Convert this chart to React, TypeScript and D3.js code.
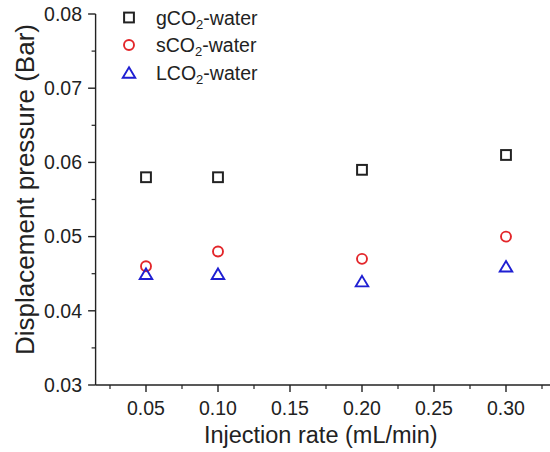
import React from "react";
import * as d3 from "d3";

// Injection rates (mL/min)
const rates = [0.05, 0.1, 0.2, 0.3];
// Displacement pressure (Bar) for each fluid pair
const gCO2Water = [0.058, 0.058, 0.059, 0.061];
const sCO2Water = [0.046, 0.048, 0.047, 0.05];
const lCO2Water = [0.045, 0.045, 0.044, 0.046];

const xTicks = [0.05, 0.1, 0.15, 0.2, 0.25, 0.3];
const xMinor = [0.025, 0.075, 0.125, 0.175, 0.225, 0.275, 0.325];
const yTicks = [0.03, 0.04, 0.05, 0.06, 0.07, 0.08];
const yMinor = [0.035, 0.045, 0.055, 0.065, 0.075];

const W = 550;
const H = 452;
const FONT = "'Liberation Sans', Arial, sans-serif";

const BLACK = "#222222";
const RED = "#e3262a";
const BLUE = "#1f1fd2";

const x = d3.scaleLinear().domain([0.015, 0.335]).range([95.6, 556.4]);
const y = d3.scaleLinear().domain([0.03, 0.08]).range([385, 14]);

const triPath = (cx: number, cy: number, w: number, h: number) =>
  `M${cx},${cy - h / 2}L${cx + w / 2},${cy + h / 2}L${cx - w / 2},${cy + h / 2}Z`;

const Square = ({ cx, cy }: { cx: number; cy: number }) => (
  <rect x={cx - 4.9} y={cy - 4.9} width={9.8} height={9.8} fill="none" stroke={BLACK} strokeWidth={2} />
);
const Circle = ({ cx, cy }: { cx: number; cy: number }) => (
  <circle cx={cx} cy={cy} r={5} fill="none" stroke={RED} strokeWidth={1.9} />
);
const Triangle = ({ cx, cy }: { cx: number; cy: number }) => (
  <path d={triPath(cx, cy, 12.5, 10.5)} fill="none" stroke={BLUE} strokeWidth={1.9} strokeLinejoin="miter" />
);

export default function App() {
  const x0 = x.range()[0];
  const y0 = y.range()[0];
  const legend = [
    { name: "g", Marker: Square },
    { name: "s", Marker: Circle },
    { name: "L", Marker: Triangle },
  ];
  return (
    <svg
      width={W}
      height={H}
      style={{ position: "absolute", left: 0, top: 0, background: "#fff" }}
      fontFamily={FONT}
    >
      {/* axes */}
      <line x1={x0} y1={y(0.08)} x2={x0} y2={y0} stroke={BLACK} strokeWidth={1.4} />
      <line x1={x0} y1={y0} x2={W} y2={y0} stroke={BLACK} strokeWidth={1.4} />
      {yTicks.map((t) => (
        <g key={"y" + t}>
          <line x1={x0 - 7.5} x2={x0} y1={y(t)} y2={y(t)} stroke={BLACK} strokeWidth={1.4} />
          <text x={82} y={y(t)} dy="0.35em" textAnchor="end" fontSize={19.5} fill={BLACK}>
            {t.toFixed(2)}
          </text>
        </g>
      ))}
      {yMinor.map((t) => (
        <line key={"ym" + t} x1={x0 - 4} x2={x0} y1={y(t)} y2={y(t)} stroke={BLACK} strokeWidth={1.2} />
      ))}
      {xTicks.map((t) => (
        <g key={"x" + t}>
          <line x1={x(t)} x2={x(t)} y1={y0} y2={y0 + 7} stroke={BLACK} strokeWidth={1.4} />
          <text x={x(t)} y={415} textAnchor="middle" fontSize={19.5} fill={BLACK}>
            {t.toFixed(2)}
          </text>
        </g>
      ))}
      {xMinor.map((t) => (
        <line key={"xm" + t} x1={x(t)} x2={x(t)} y1={y0} y2={y0 + 4} stroke={BLACK} strokeWidth={1.2} />
      ))}

      {/* axis titles */}
      <text x={320.8} y={443} textAnchor="middle" fontSize={23.5} fill={BLACK}>
        Injection rate (mL/min)
      </text>
      <text
        transform={`translate(33.5,189.5) rotate(-90)`}
        textAnchor="middle"
        fontSize={26}
        fill={BLACK}
      >
        Displacement pressure (Bar)
      </text>

      {/* data */}
      {rates.map((r, i) => (
        <g key={"p" + r}>
          <Square cx={x(r)} cy={y(gCO2Water[i])} />
          <Circle cx={x(r)} cy={y(sCO2Water[i])} />
          <Triangle cx={x(r)} cy={y(lCO2Water[i])} />
        </g>
      ))}

      {/* legend */}
      {legend.map(({ name, Marker }, i) => {
        const cy = 17.5 + i * 27.5;
        return (
          <g key={name}>
            <Marker cx={129} cy={cy} />
            <text x={156} y={cy + 7} fontSize={19.5} fill={BLACK}>
              {name}CO
              <tspan fontSize={13} dy={4}>2</tspan>
              <tspan dy={-4}>-water</tspan>
            </text>
          </g>
        );
      })}
    </svg>
  );
}
